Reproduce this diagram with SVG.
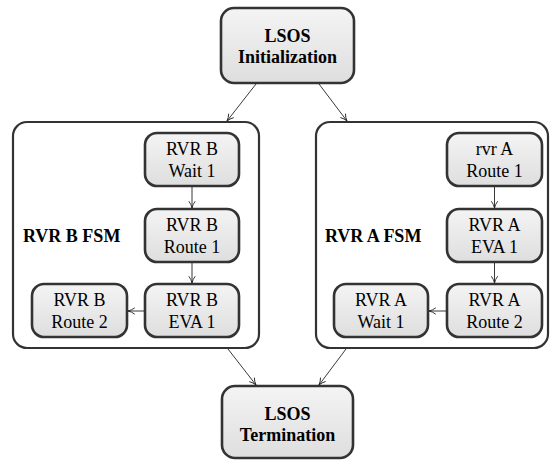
<svg xmlns="http://www.w3.org/2000/svg" width="560" height="462" viewBox="0 0 560 462">
<defs>
<linearGradient id="g" x1="0" y1="0" x2="0" y2="1">
<stop offset="0" stop-color="#f4f4f4"/>
<stop offset="1" stop-color="#dedede"/>
</linearGradient>
<marker id="ar" viewBox="0 0 10 10" refX="9.5" refY="5" markerWidth="8" markerHeight="8" markerUnits="userSpaceOnUse" orient="auto">
<path d="M1,1 Q5,4 9.5,5 Q5,6 1,9" fill="none" stroke="#222" stroke-width="1.1"/>
</marker>
</defs>
<g id="containerB"><rect x="13" y="122" width="246" height="226" rx="14" fill="#fff" stroke="#333" stroke-width="2.2"/><text x="23" y="242" font-family="Times New Roman, Liberation Serif, serif" font-size="18" font-weight="bold">RVR B FSM</text></g>
<g id="containerA"><rect x="316" y="122" width="232" height="226" rx="14" fill="#fff" stroke="#333" stroke-width="2.2"/><text x="325" y="242" font-family="Times New Roman, Liberation Serif, serif" font-size="18" font-weight="bold">RVR A FSM</text></g>
<g id="init"><rect x="221" y="8" width="133" height="75" rx="13" fill="url(#g)" stroke="#333" stroke-width="2.6"/><text x="287.5" y="42" font-family="Times New Roman, Liberation Serif, serif" font-size="18" font-weight="bold" text-anchor="middle">LSOS</text><text x="287.5" y="63" font-family="Times New Roman, Liberation Serif, serif" font-size="18" font-weight="bold" text-anchor="middle">Initialization</text></g>
<g id="term"><rect x="222" y="386" width="131" height="72" rx="13" fill="url(#g)" stroke="#333" stroke-width="2.6"/><text x="287.5" y="420" font-family="Times New Roman, Liberation Serif, serif" font-size="18" font-weight="bold" text-anchor="middle">LSOS</text><text x="287.5" y="441" font-family="Times New Roman, Liberation Serif, serif" font-size="18" font-weight="bold" text-anchor="middle">Termination</text></g>
<g id="bWait1"><rect x="145" y="133" width="94" height="53" rx="12" fill="url(#g)" stroke="#333" stroke-width="2.6"/><text x="192" y="155" font-family="Times New Roman, Liberation Serif, serif" font-size="18" text-anchor="middle">RVR B</text><text x="192" y="177" font-family="Times New Roman, Liberation Serif, serif" font-size="18" text-anchor="middle">Wait 1</text></g>
<g id="bRoute1"><rect x="145" y="209" width="94" height="53" rx="12" fill="url(#g)" stroke="#333" stroke-width="2.6"/><text x="192" y="231" font-family="Times New Roman, Liberation Serif, serif" font-size="18" text-anchor="middle">RVR B</text><text x="192" y="253" font-family="Times New Roman, Liberation Serif, serif" font-size="18" text-anchor="middle">Route 1</text></g>
<g id="bEva1"><rect x="145" y="284" width="94" height="53" rx="12" fill="url(#g)" stroke="#333" stroke-width="2.6"/><text x="192" y="306" font-family="Times New Roman, Liberation Serif, serif" font-size="18" text-anchor="middle">RVR B</text><text x="192" y="328" font-family="Times New Roman, Liberation Serif, serif" font-size="18" text-anchor="middle">EVA 1</text></g>
<g id="bRoute2"><rect x="32" y="284" width="95" height="53" rx="12" fill="url(#g)" stroke="#333" stroke-width="2.6"/><text x="79.5" y="306" font-family="Times New Roman, Liberation Serif, serif" font-size="18" text-anchor="middle">RVR B</text><text x="79.5" y="328" font-family="Times New Roman, Liberation Serif, serif" font-size="18" text-anchor="middle">Route 2</text></g>
<g id="aRoute1"><rect x="447" y="133" width="95" height="53" rx="12" fill="url(#g)" stroke="#333" stroke-width="2.6"/><text x="494.5" y="155" font-family="Times New Roman, Liberation Serif, serif" font-size="18" text-anchor="middle">rvr A</text><text x="494.5" y="177" font-family="Times New Roman, Liberation Serif, serif" font-size="18" text-anchor="middle">Route 1</text></g>
<g id="aEva1"><rect x="447" y="209" width="95" height="53" rx="12" fill="url(#g)" stroke="#333" stroke-width="2.6"/><text x="494.5" y="231" font-family="Times New Roman, Liberation Serif, serif" font-size="18" text-anchor="middle">RVR A</text><text x="494.5" y="253" font-family="Times New Roman, Liberation Serif, serif" font-size="18" text-anchor="middle">EVA 1</text></g>
<g id="aRoute2"><rect x="447" y="284" width="95" height="53" rx="12" fill="url(#g)" stroke="#333" stroke-width="2.6"/><text x="494.5" y="306" font-family="Times New Roman, Liberation Serif, serif" font-size="18" text-anchor="middle">RVR A</text><text x="494.5" y="328" font-family="Times New Roman, Liberation Serif, serif" font-size="18" text-anchor="middle">Route 2</text></g>
<g id="aWait1"><rect x="334" y="284" width="94" height="53" rx="12" fill="url(#g)" stroke="#333" stroke-width="2.6"/><text x="381" y="306" font-family="Times New Roman, Liberation Serif, serif" font-size="18" text-anchor="middle">RVR A</text><text x="381" y="328" font-family="Times New Roman, Liberation Serif, serif" font-size="18" text-anchor="middle">Wait 1</text></g>
<g id="connectors" stroke="#222" stroke-width="0.9" fill="none" marker-end="url(#ar)">
<path d="M256,84 L227,121"/>
<path d="M319,84 L347,121"/>
<path d="M192,187 L192,208"/>
<path d="M192,263 L192,283"/>
<path d="M144,311 L128,311"/>
<path d="M494.5,187 L494.5,208"/>
<path d="M494.5,263 L494.5,283"/>
<path d="M446,311 L429,311"/>
<path d="M228,349 L256,385"/>
<path d="M346,349 L319,385"/>
</g>
</svg>
